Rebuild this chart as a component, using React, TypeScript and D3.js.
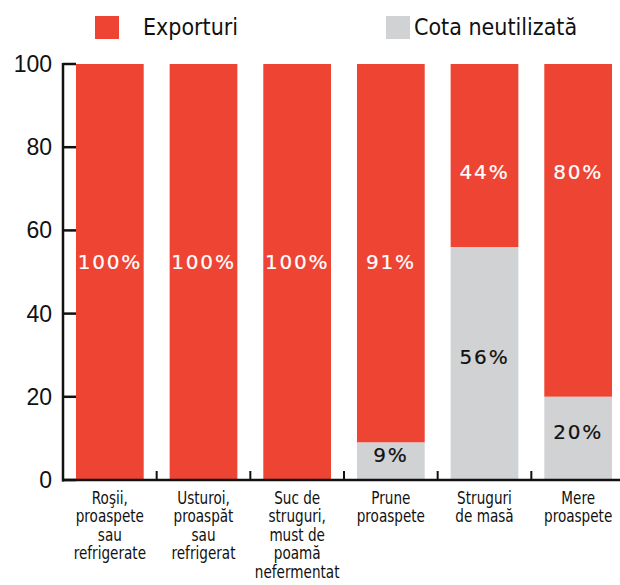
import React from "react";
import * as d3 from "d3";

const categories: string[][] = [
  ["Roşii,", "proaspete", "sau", "refrigerate"],
  ["Usturoi,", "proaspăt", "sau", "refrigerat"],
  ["Suc de", "struguri,", "must de", "poamă", "nefermentat"],
  ["Prune", "proaspete"],
  ["Struguri", "de masă"],
  ["Mere", "proaspete"],
];
const exportsShare = [100, 100, 100, 91, 44, 80];
const unusedShare = [0, 0, 0, 9, 56, 20];
const yTicks = [0, 20, 40, 60, 80, 100];
const legendLabels = ["Exporturi", "Cota neutilizată"];

const RED = "#EE4433";
const GREY = "#D1D2D4";

export default function App() {
  const W = 620, H = 585;
  const x0 = 63, x1 = 625;
  const yTop = 64, yBot = 480;
  const x = d3
    .scaleBand<number>()
    .domain(categories.map((_, i) => i))
    .range([x0, x1])
    .paddingInner(0.277)
    .paddingOuter(0.1385);
  const y = d3.scaleLinear().domain([0, 100]).range([yBot, yTop]);
  const bw = x.bandwidth();
  const step = x.step();
  const valueFont = "'DejaVu Sans', sans-serif";
  const narrow = "'DejaVu Sans Condensed', sans-serif";
  const legendFont = "'DejaVu Sans Condensed', 'DejaVu Sans', sans-serif";
  const sx = 0.84;

  return (
    <svg width={W} height={H} style={{ position: "absolute", left: 0, top: 0, background: "#fff" }}>
      {/* legend */}
      <rect x={95} y={16} width={24} height={23} fill={RED} />
      <text x={143} y={35} fontFamily={legendFont} fontSize={23} fill="#111">{legendLabels[0]}</text>
      <rect x={386} y={16} width={24} height={23} fill={GREY} />
      <text x={414} y={35} fontFamily={legendFont} fontSize={23} fill="#111">{legendLabels[1]}</text>

      {/* bars */}
      {categories.map((_, i) => {
        const bx = x(i)!;
        const u = unusedShare[i];
        const e = exportsShare[i];
        return (
          <g key={i}>
            <rect x={bx} y={y(u + e)} width={bw} height={y(u) - y(u + e)} fill={RED} />
            {u > 0 && <rect x={bx} y={y(u)} width={bw} height={y(0) - y(u)} fill={GREY} />}
            <text
              x={bx + bw / 2}
              y={y(u >= 20 ? 74 : 52.5)}
              textAnchor="middle"
              dominantBaseline="central"
              fontFamily={valueFont}
              fontSize={20}
              letterSpacing={1.8}
              fill="#fff"
              stroke="#fff"
              strokeWidth={0.2}
            >
              {e}%
            </text>
            {u > 0 && (
              <text
                x={bx + bw / 2}
                y={y(u / 2 + 1.5)}
                textAnchor="middle"
                dominantBaseline="central"
                fontFamily={valueFont}
                fontSize={20}
                letterSpacing={1.8}
                fill="#111"
                stroke="#111"
                strokeWidth={0.2}
              >
                {u}%
              </text>
            )}
          </g>
        );
      })}

      {/* y axis */}
      <line x1={x0} x2={x0} y1={yTop - 1} y2={yBot + 1.5} stroke="#111" strokeWidth={2.5} />
      {yTicks.map((t) => (
        <g key={t}>
          <line x1={x0} x2={x0 + 13} y1={y(t)} y2={y(t)} stroke="#111" strokeWidth={2.5} />
          <text
            x={52}
            y={y(t)}
            textAnchor="end"
            dominantBaseline="central"
            fontFamily="'Liberation Sans', Arial, sans-serif"
            fontSize={23}
            fill="#111"
          >
            {t}
          </text>
        </g>
      ))}

      {/* x axis */}
      <line x1={x0 - 1} x2={W} y1={yBot} y2={yBot} stroke="#111" strokeWidth={2.5} />
      {categories.slice(1).map((_, i) => {
        const tx = x(i + 1)! - (step - bw) / 2;
        return <line key={i} x1={tx} x2={tx} y1={yBot} y2={yBot - 9} stroke="#111" strokeWidth={2} />;
      })}
      {categories.map((lines, i) => {
        const cx = x(i)! + bw / 2;
        return (
          <g key={i} transform={`translate(${cx},0) scale(${sx},1)`}>
            {lines.map((l, j) => (
              <text
                key={j}
                x={0}
                y={504 + j * 18.5}
                textAnchor="middle"
                fontFamily={narrow}
                fontSize={18}
                fill="#111"
              >
                {l}
              </text>
            ))}
          </g>
        );
      })}
    </svg>
  );
}
